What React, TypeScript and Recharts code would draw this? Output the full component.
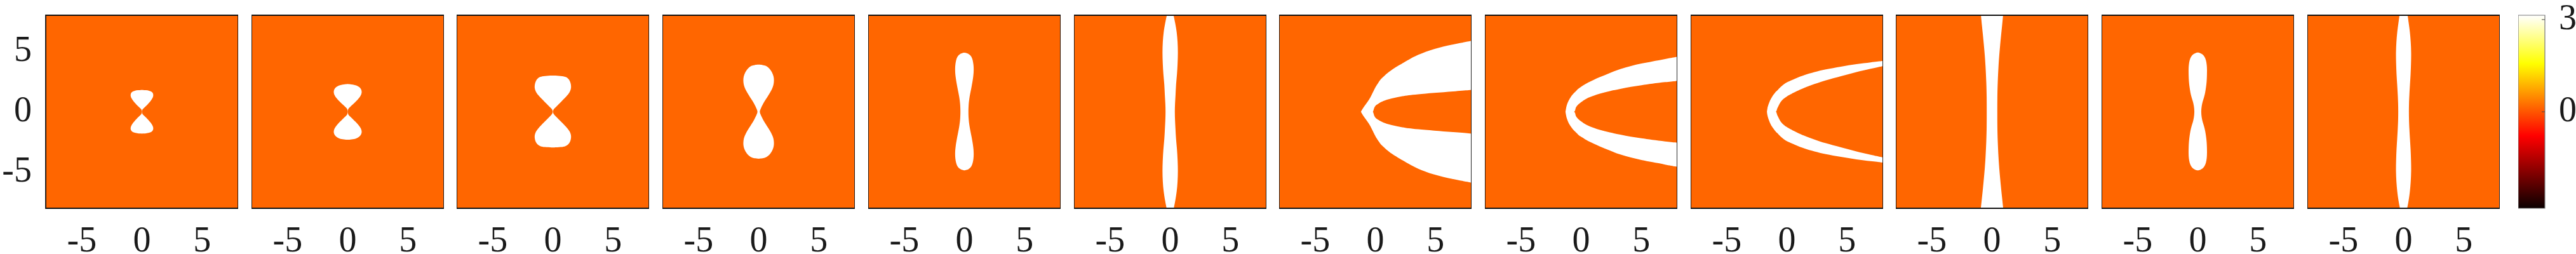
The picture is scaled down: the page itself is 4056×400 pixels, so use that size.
import { ComposedChart, Area, XAxis, YAxis, CartesianGrid, ReferenceArea } from 'recharts';

const axisTicks = [-5, 0, 5];
const axisDomain: [number, number] = [-8, 8];
const barTicks = [0, 3];
const barDomain: [number, number] = [-Math.PI, Math.PI];

// [y, half-width] of the white region, for the vertically oriented panels
const p1: [number, number][] = [
  [-1.81, 0], [-1.79, 0.35], [-1.75, 0.6], [-1.65, 0.84], [-1.5, 0.94], [-1.3, 0.95], [-1.1, 0.87],
  [-0.9, 0.72], [-0.7, 0.55], [-0.5, 0.37], [-0.3, 0.16], [-0.18, 0],
  [0.18, 0], [0.3, 0.16], [0.5, 0.37], [0.7, 0.55], [0.9, 0.72], [1.1, 0.87], [1.3, 0.95],
  [1.5, 0.94], [1.65, 0.84], [1.75, 0.6], [1.79, 0.35], [1.81, 0],
];
const p2: [number, number][] = [
  [-2.32, 0], [-2.28, 0.45], [-2.2, 0.75], [-2.07, 0.98], [-1.87, 1.14], [-1.62, 1.18], [-1.37, 1.1],
  [-1.12, 0.92], [-0.86, 0.68], [-0.6, 0.42], [-0.35, 0.15], [-0.21, 0],
  [0.22, 0], [0.35, 0.15], [0.6, 0.42], [0.85, 0.68], [1.1, 0.92], [1.35, 1.1], [1.6, 1.18],
  [1.85, 1.14], [2.05, 0.98], [2.18, 0.75], [2.26, 0.45], [2.3, 0],
];
const p3: [number, number][] = [
  [-2.96, 0], [-2.93, 0.72], [-2.86, 1.05], [-2.73, 1.28], [-2.52, 1.42], [-2.28, 1.5], [-2.0, 1.53],
  [-1.7, 1.45], [-1.37, 1.23], [-0.84, 0.7], [-0.4, 0.27], [-0.16, 0],
  [0.17, 0], [0.4, 0.27], [0.84, 0.7], [1.37, 1.23], [1.7, 1.45], [2.0, 1.53], [2.3, 1.5],
  [2.55, 1.42], [2.77, 1.28], [2.9, 1.05], [2.97, 0.72], [3.0, 0],
];
const p4: [number, number][] = [
  [-3.89, 0], [-3.86, 0.35], [-3.8, 0.57], [-3.68, 0.78], [-3.45, 1.0], [-3.1, 1.2], [-2.77, 1.28],
  [-2.4, 1.27], [-2.07, 1.2], [-1.7, 1.02], [-1.37, 0.82], [-1.0, 0.58], [-0.67, 0.37], [-0.23, 0.16],
  [0, 0.07],
  [0.23, 0.16], [0.67, 0.37], [1.0, 0.58], [1.37, 0.82], [1.7, 1.02], [2.07, 1.2], [2.4, 1.27],
  [2.77, 1.28], [3.1, 1.2], [3.47, 1.0], [3.7, 0.78], [3.82, 0.57], [3.88, 0.35], [3.91, 0],
];
const p5: [number, number][] = [
  [-4.86, 0], [-4.81, 0.25], [-4.71, 0.42], [-4.56, 0.57], [-4.31, 0.68], [-3.88, 0.76], [-3.5, 0.78],
  [-2.95, 0.75], [-2.07, 0.6], [-1.19, 0.41], [-0.49, 0.34],
  [0, 0.33],
  [0.49, 0.34], [1.19, 0.41], [2.07, 0.6], [2.95, 0.75], [3.5, 0.78], [3.9, 0.76], [4.35, 0.68],
  [4.6, 0.57], [4.75, 0.42], [4.85, 0.25], [4.9, 0],
];
const p6: [number, number][] = [
  [-8, 0.3], [-7.4, 0.42], [-6.6, 0.55], [-5.8, 0.62], [-4.9, 0.65], [-4.0, 0.62], [-3.1, 0.57],
  [-2.25, 0.48], [-1.4, 0.44], [-0.7, 0.4], [0, 0.38], [0.7, 0.4], [1.4, 0.45], [2.25, 0.48],
  [3.1, 0.57], [4.0, 0.62], [4.9, 0.65], [5.8, 0.62], [6.6, 0.55], [7.4, 0.41], [8, 0.28],
];
const p10: [number, number][] = [
  [-8, 0.93], [-7.16, 0.84], [-6.4, 0.76], [-5.58, 0.68], [-4.7, 0.6], [-3.82, 0.54], [-2.42, 0.47],
  [-1.2, 0.44], [0, 0.44], [1.2, 0.44], [2.42, 0.47], [3.82, 0.54], [4.7, 0.6], [5.58, 0.68],
  [6.4, 0.76], [7.16, 0.84], [8, 0.92],
];
const p11: [number, number][] = [
  [-4.86, 0], [-4.82, 0.2], [-4.73, 0.38], [-4.55, 0.55], [-4.25, 0.68], [-3.85, 0.75], [-3.45, 0.77],
  [-2.92, 0.76], [-2.48, 0.74], [-2.05, 0.69], [-1.6, 0.62], [-1.19, 0.52], [-0.84, 0.4], [-0.49, 0.32],
  [0, 0.27],
  [0.49, 0.32], [0.84, 0.4], [1.19, 0.52], [1.6, 0.62], [2.07, 0.69], [2.5, 0.74], [2.95, 0.76],
  [3.5, 0.77], [3.9, 0.75], [4.3, 0.68], [4.6, 0.55], [4.78, 0.38], [4.87, 0.2], [4.91, 0],
];
const p12: [number, number][] = [
  [-8, 0.3], [-7.4, 0.42], [-6.63, 0.53], [-5.8, 0.6], [-4.88, 0.64], [-4.0, 0.62], [-3.12, 0.59],
  [-2.25, 0.53], [-1.37, 0.48], [-0.7, 0.45], [0, 0.44], [0.7, 0.45], [1.37, 0.48], [2.25, 0.53],
  [3.12, 0.59], [4.0, 0.62], [4.88, 0.64], [5.8, 0.6], [6.63, 0.53], [7.4, 0.42], [8, 0.34],
];

// horseshoe panels: x, outer edge y, inner edge y (upper half, mirrored below)
const c7X = [-1.2, -0.97, -0.62, -0.41, -0.24, -0.18, -0.12, -0.06, 0.03, 0.11, 0.29, 0.38, 0.5, 0.99, 1.34, 1.87, 2.22, 2.75, 3.45, 4.85, 6.5, 8];
const c7Out = [0, 0.4, 0.84, 1.19, 1.54, 1.65, 1.78, 1.9, 2.07, 2.2, 2.48, 2.6, 2.75, 3.2, 3.47, 3.8, 4.0, 4.3, 4.7, 5.23, 5.6, 5.88];
const c7In = [0, 0, 0, 0, 0, 0, 0.26, 0.4, 0.52, 0.58, 0.7, 0.75, 0.82, 1.02, 1.1, 1.22, 1.28, 1.37, 1.44, 1.56, 1.69, 1.81];

const c8X = [-1.3, -1.25, -1.21, -1.1, -0.95, -0.7, -0.51, -0.47, -0.42, -0.25, -0.07, 0.28, 0.63, 1.51, 2.39, 3.26, 4.14, 5.02, 5.89, 7, 8];
const c8Out = [0, 0.3, 0.49, 0.8, 1.1, 1.45, 1.63, 1.67, 1.72, 1.9, 2.03, 2.25, 2.45, 2.86, 3.22, 3.56, 3.8, 4.0, 4.17, 4.38, 4.56];
const c8In = [0, 0, 0, 0, 0, 0, 0, 0.25, 0.4, 0.6, 0.75, 1.0, 1.19, 1.5, 1.72, 1.9, 2.07, 2.2, 2.33, 2.46, 2.56];

const c9X = [-1.66, -1.62, -1.57, -1.4, -1.22, -0.95, -0.87, -0.83, -0.78, -0.69, -0.52, -0.25, 0.01, 0.18, 0.8, 1.41, 2.3, 3.17, 4.5, 5.8, 7, 8];
const c9Out = [0, 0.3, 0.49, 0.95, 1.28, 1.62, 1.7, 1.74, 1.78, 1.89, 2.05, 2.28, 2.45, 2.52, 2.8, 3.04, 3.3, 3.51, 3.75, 3.95, 4.1, 4.21];
const c9In = [0, 0, 0, 0, 0, 0, 0, 0.2, 0.32, 0.5, 0.84, 1.1, 1.28, 1.38, 1.7, 1.98, 2.3, 2.6, 2.95, 3.3, 3.58, 3.79];

const ORANGE = '#ff6600';
const FONT = '"Liberation Serif", "Times New Roman", serif';
const PLOT_LEFT = 72;
const STEP = 323.7;
const PLOT_W = 303;
const TOP = 24;
const PLOT_H = 304;
const H = 400;

const vRows = (p: [number, number][]) => p.map(([y, w]) => ({ y, x: [-w, w] }));
const hRows = (xs: number[], outer: number[], inner: number[]) =>
  xs.map((x, i) => ({ x, up: [inner[i], outer[i]], dn: [-outer[i], -inner[i]] }));

const panels: { layout: 'vertical' | 'horizontal'; rows: any[] }[] = [
  { layout: 'vertical', rows: vRows(p1) },
  { layout: 'vertical', rows: vRows(p2) },
  { layout: 'vertical', rows: vRows(p3) },
  { layout: 'vertical', rows: vRows(p4) },
  { layout: 'vertical', rows: vRows(p5) },
  { layout: 'vertical', rows: vRows(p6) },
  { layout: 'horizontal', rows: hRows(c7X, c7Out, c7In) },
  { layout: 'horizontal', rows: hRows(c8X, c8Out, c8In) },
  { layout: 'horizontal', rows: hRows(c9X, c9Out, c9In) },
  { layout: 'vertical', rows: vRows(p10) },
  { layout: 'vertical', rows: vRows(p11) },
  { layout: 'vertical', rows: vRows(p12) },
];

const tickStyle = { fill: '#1a1a1a', fontSize: 56, fontFamily: FONT };

function Panel({ i, layout, rows }: { i: number; layout: 'vertical' | 'horizontal'; rows: any[] }) {
  const first = i === 0;
  const yw = first ? PLOT_LEFT : 0;
  const vertical = layout === 'vertical';
  return (
    <div style={{ position: 'absolute', top: 0, left: Math.round(PLOT_LEFT + i * STEP) - yw }}>
      <ComposedChart
        width={PLOT_W + yw}
        height={H}
        layout={layout}
        data={rows}
        margin={{ top: TOP, right: 0, bottom: 0, left: 0 }}
      >
        <CartesianGrid fill={ORANGE} fillOpacity={1} horizontal={false} vertical={false} />
        <XAxis
          type="number"
          dataKey={vertical ? undefined : 'x'}
          domain={axisDomain}
          allowDataOverflow
          ticks={axisTicks}
          interval={0}
          height={H - TOP - PLOT_H}
          tickSize={0}
          tickMargin={28}
          axisLine={false}
          tickLine={false}
          tick={tickStyle}
        />
        <YAxis
          type="number"
          dataKey={vertical ? 'y' : undefined}
          reversed={vertical}
          domain={axisDomain}
          allowDataOverflow
          ticks={axisTicks}
          interval={0}
          width={yw}
          hide={!first}
          tickSize={0}
          tickMargin={22}
          axisLine={false}
          tickLine={false}
          tick={{ ...tickStyle, dy: -5 }}
        />
        {vertical && (
          <Area dataKey="x" type="basis" fill="#ffffff" fillOpacity={1} stroke="none"
            dot={false} activeDot={false} isAnimationActive={false} />
        )}
        {!vertical && (
          <Area dataKey="up" type="basis" fill="#ffffff" fillOpacity={1} stroke="none"
            dot={false} activeDot={false} isAnimationActive={false} />
        )}
        {!vertical && (
          <Area dataKey="dn" type="basis" fill="#ffffff" fillOpacity={1} stroke="none"
            dot={false} activeDot={false} isAnimationActive={false} />
        )}
        <ReferenceArea x1={-8} x2={8} y1={-8} y2={8} fill="none" stroke="#111" strokeWidth={1.8} ifOverflow="visible" />
      </ComposedChart>
    </div>
  );
}

function ColorBar() {
  const left = 3965;
  const w = 42;
  const aw = 4056 - left - w;
  return (
    <div style={{ position: 'absolute', top: 0, left }}>
      <ComposedChart
        width={w + aw}
        height={H}
        data={[{ v: 0 }]}
        margin={{ top: TOP, right: 0, bottom: H - TOP - PLOT_H, left: 0 }}
      >
        <defs>
          <linearGradient id="hotmap" x1="0" y1="1" x2="0" y2="0">
            <stop offset="0" stopColor="#0b0000" />
            <stop offset="0.375" stopColor="#ff0000" />
            <stop offset="0.75" stopColor="#ffff00" />
            <stop offset="1" stopColor="#ffffff" />
          </linearGradient>
        </defs>
        <XAxis type="number" dataKey="v" domain={[0, 1]} allowDataOverflow hide />
        <YAxis
          orientation="right"
          type="number"
          domain={barDomain}
          allowDataOverflow
          ticks={barTicks}
          interval={0}
          width={aw}
          tickSize={-5}
          tickMargin={27}
          axisLine={false}
          tickLine={{ stroke: '#444' }}
          tick={{ ...tickStyle, dy: -5 }}
        />
        <ReferenceArea x1={0} x2={1} y1={barDomain[0]} y2={barDomain[1]} fill="url(#hotmap)" fillOpacity={1}
          stroke="#777" strokeWidth={1.2} ifOverflow="visible" />
      </ComposedChart>
    </div>
  );
}

export default function App() {
  return (
    <div style={{ position: 'absolute', left: 0, top: 0, width: 4056, height: 400, overflow: 'hidden', background: '#fff' }}>
      {panels.map((p, i) => (
        <Panel key={i} i={i} layout={p.layout} rows={p.rows} />
      ))}
      <ColorBar />
    </div>
  );
}
